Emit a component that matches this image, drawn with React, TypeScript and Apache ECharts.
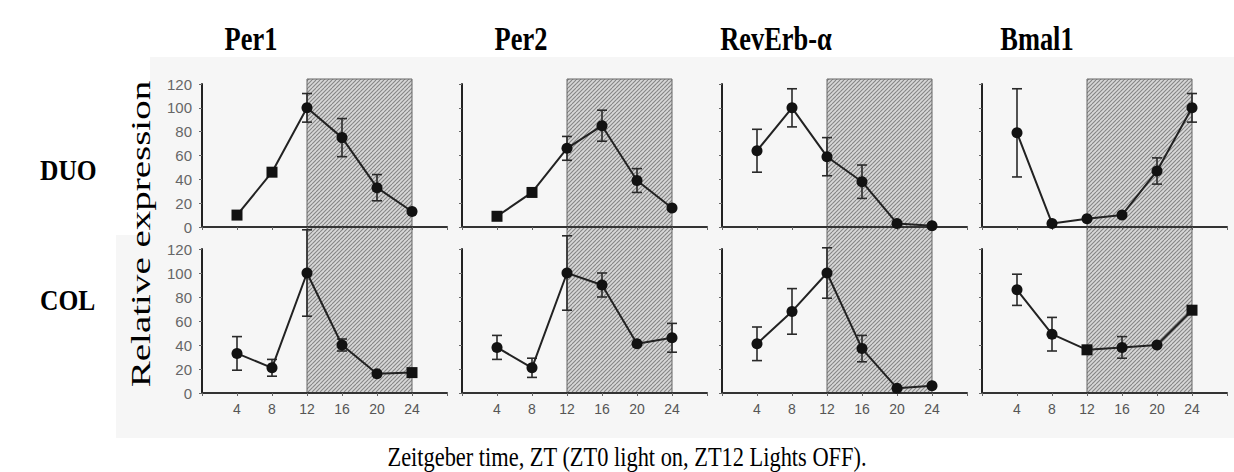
import React, { useEffect, useRef } from "react";
import * as echarts from "echarts";

// ---------- data ----------
const genes = ["Per1", "Per2", "RevErb-α", "Bmal1"];
const groups = ["DUO", "COL"];
const ztHours = [4, 8, 12, 16, 20, 24];
const xTickLabels = [4, 8, 12, 16, 20, 24];
const yTickLabels = [0, 20, 40, 60, 80, 100, 120];
const darkPhase = [12, 24];

const duoPer1 = [10, 46, 100, 75, 33, 13];
const duoPer1Err = [2, 2, 12, 16, 11, 1];
const duoPer1Sym = ["rect", "rect", "circle", "circle", "circle", "circle"];

const duoPer2 = [9, 29, 66, 85, 39, 16];
const duoPer2Err = [1, 2, 10, 13, 10, 1];
const duoPer2Sym = ["rect", "rect", "circle", "circle", "circle", "circle"];

const duoRev = [64, 100, 59, 38, 3, 1];
const duoRevErr = [18, 16, 16, 14, 0, 0];
const duoRevSym = ["circle", "circle", "circle", "circle", "circle", "circle"];

const duoBmal = [79, 3, 7, 10, 47, 100];
const duoBmalErr = [37, 0, 0, 0, 11, 12];
const duoBmalSym = ["circle", "circle", "circle", "circle", "circle", "circle"];

const colPer1 = [33, 21, 100, 40, 16, 17];
const colPer1Err = [14, 7, 36, 5, 0, 0];
const colPer1Sym = ["circle", "circle", "circle", "circle", "circle", "rect"];

const colPer2 = [38, 21, 100, 90, 41, 46];
const colPer2Err = [10, 8, 31, 10, 0, 12];
const colPer2Sym = ["circle", "circle", "circle", "circle", "circle", "circle"];

const colRev = [41, 68, 100, 37, 4, 6];
const colRevErr = [14, 19, 21, 11, 0, 0];
const colRevSym = ["circle", "circle", "circle", "circle", "circle", "circle"];

const colBmal = [86, 49, 36, 38, 40, 69];
const colBmalErr = [13, 14, 0, 9, 0, 2];
const colBmalSym = ["circle", "circle", "rect", "circle", "circle", "rect"];

const panelValues = [
  [duoPer1, duoPer2, duoRev, duoBmal],
  [colPer1, colPer2, colRev, colBmal],
];
const panelErrors = [
  [duoPer1Err, duoPer2Err, duoRevErr, duoBmalErr],
  [colPer1Err, colPer2Err, colRevErr, colBmalErr],
];
const panelSymbols = [
  [duoPer1Sym, duoPer2Sym, duoRevSym, duoBmalSym],
  [colPer1Sym, colPer2Sym, colRevSym, colBmalSym],
];

// ---------- layout ----------
const colLeft = [202, 462, 722, 982];
const panelWidth = 245;
const rowTop = [84, 249];
const rowHeight = [143, 144];
const hatchTop = 79;
const hatchBottom = 393;

const SERIF = "'Liberation Serif', 'Times New Roman', serif";
const SANS = "'Liberation Sans', Arial, sans-serif";

function makePattern() {
  const c = document.createElement("canvas");
  c.width = 8;
  c.height = 8;
  const ctx = c.getContext("2d")!;
  ctx.fillStyle = "#d8d8d8";
  ctx.fillRect(0, 0, 8, 8);
  ctx.strokeStyle = "#858585";
  ctx.lineWidth = 1.1;
  for (const k of [0, 4, 8, 12, 16]) {
    ctx.beginPath();
    ctx.moveTo(k, 0);
    ctx.lineTo(k - 8, 8);
    ctx.stroke();
  }
  return c;
}

export default function App() {
  const ref = useRef<HTMLDivElement>(null);

  useEffect(() => {
    document.body.style.margin = "0";
    if (!ref.current) return;
    const chart = echarts.init(ref.current, undefined, { renderer: "svg" });
    const pattern = makePattern();

    const grids: any[] = [];
    const xAxes: any[] = [];
    const yAxes: any[] = [];
    const series: any[] = [];

    for (let r = 0; r < 2; r++) {
      for (let c = 0; c < 4; c++) {
        grids.push({
          left: colLeft[c],
          top: rowTop[r],
          width: panelWidth,
          height: rowHeight[r],
          outerBoundsMode: "none",
        });
        const gi = r * 4 + c;
        xAxes.push({
          type: "value",
          gridIndex: gi,
          min: 0,
          max: 28,
          interval: 4,
          z: 5,
          splitLine: { show: false },
          axisLine: { show: true, onZero: false, lineStyle: { color: "#333", width: 2 } },
          axisTick: { show: true, length: 3, lineStyle: { color: "#666", width: 1 } },
          axisLabel: {
            show: r === 1,
            formatter: (v: number) => (xTickLabels.includes(v) ? String(v) : ""),
            color: "#555",
            fontSize: 14,
            fontFamily: SANS,
            margin: 9,
          },
        });
        yAxes.push({
          type: "value",
          gridIndex: gi,
          min: 0,
          max: 120,
          interval: 20,
          z: 5,
          splitLine: { show: false },
          axisLine: { show: true, onZero: false, lineStyle: { color: "#222", width: 2 } },
          axisTick: { show: true, length: 3, lineStyle: { color: "#666", width: 1 } },
          axisLabel: {
            show: c === 0,
            formatter: (v: number) => (yTickLabels.includes(v) ? String(v) : ""),
            color: "#666",
            fontSize: 15,
            fontFamily: SANS,
            margin: 10,
          },
        });

        const vals = panelValues[r][c];
        const errs = panelErrors[r][c];
        const syms = panelSymbols[r][c];

        series.push({
          type: "line",
          xAxisIndex: gi,
          yAxisIndex: gi,
          z: 6,
          symbolSize: 11,
          showSymbol: true,
          data: ztHours.map((h, i) => ({ value: [h, vals[i]], symbol: syms[i] })),
          itemStyle: { color: "#121212" },
          lineStyle: { color: "#222", width: 2 },
        });

        series.push({
          type: "custom",
          xAxisIndex: gi,
          yAxisIndex: gi,
          z: 6,
          clip: false,
          encode: { x: 0, y: [1, 2] },
          data: ztHours.map((h, i) => [h, vals[i] - errs[i], vals[i] + errs[i], errs[i]]),
          renderItem: (params: any, api: any) => {
            if (api.value(3) <= 0) return null;
            const top = api.coord([api.value(0), api.value(2)]);
            const bot = api.coord([api.value(0), api.value(1)]);
            const w = 5;
            const st = { stroke: "#2a2a2a", lineWidth: 1.6 };
            return {
              type: "group",
              children: [
                { type: "line", shape: { x1: top[0], y1: top[1], x2: bot[0], y2: bot[1] }, style: st },
                { type: "line", shape: { x1: top[0] - w, y1: top[1], x2: top[0] + w, y2: top[1] }, style: st },
                { type: "line", shape: { x1: bot[0] - w, y1: bot[1], x2: bot[0] + w, y2: bot[1] }, style: st },
              ],
            };
          },
        });
      }
    }

    // hatched dark-phase columns spanning both rows
    for (let c = 0; c < 4; c++) {
      const gi = 8 + c;
      grids.push({
        left: colLeft[c],
        top: hatchTop,
        width: panelWidth,
        height: hatchBottom - hatchTop,
        outerBoundsMode: "none",
      });
      xAxes.push({ type: "value", gridIndex: gi, min: 0, max: 28, show: false });
      yAxes.push({ type: "value", gridIndex: gi, min: 0, max: 1, show: false });
      series.push({
        type: "line",
        xAxisIndex: gi,
        yAxisIndex: gi,
        z: 1,
        silent: true,
        symbol: "none",
        data: [],
        markArea: {
          silent: true,
          z: 1,
          itemStyle: {
            color: { image: pattern, repeat: "repeat" },
            borderColor: "#666",
            borderWidth: 1,
          },
          data: [[{ xAxis: darkPhase[0], yAxis: 0 }, { xAxis: darkPhase[1], yAxis: 1 }]],
        },
      });
    }

    const titleCenters = [251, 521, 776, 1037];
    const graphic: any[] = [
      { type: "rect", z: -10, silent: true, shape: { x: 150, y: 57, width: 1084, height: 381 }, style: { fill: "#f6f6f6" } },
      { type: "rect", z: -10, silent: true, shape: { x: 116, y: 235, width: 40, height: 203 }, style: { fill: "#f6f6f6" } },
    ];
    genes.forEach((g, i) => {
      graphic.push({
        type: "text",
        x: titleCenters[i],
        y: 38,
        scaleX: 0.8,
        z: 10,
        style: {
          text: g,
          font: `bold 33px ${SERIF}`,
          fill: "#000",
          textAlign: "center",
          textVerticalAlign: "middle",
        },
      });
    });
    const rowLabelY = [170, 300];
    groups.forEach((g, i) => {
      graphic.push({
        type: "text",
        x: 40,
        y: rowLabelY[i],
        scaleX: 0.85,
        z: 10,
        style: {
          text: g,
          font: `bold 30px ${SERIF}`,
          fill: "#000",
          textAlign: "left",
          textVerticalAlign: "middle",
        },
      });
    });
    graphic.push({
      type: "text",
      x: 140,
      y: 234,
      rotation: Math.PI / 2,
      scaleY: 0.72,
      z: 10,
      style: {
        text: "Relative expression",
        font: `39px ${SERIF}`,
        fill: "#000",
        textAlign: "center",
        textVerticalAlign: "middle",
      },
    });
    graphic.push({
      type: "text",
      x: 627,
      y: 456,
      scaleX: 0.8,
      z: 10,
      style: {
        text: "Zeitgeber time, ZT (ZT0 light on, ZT12 Lights OFF).",
        font: `28px ${SERIF}`,
        fill: "#000",
        textAlign: "center",
        textVerticalAlign: "middle",
      },
    });

    chart.setOption({
      animation: false,
      grid: grids,
      xAxis: xAxes,
      yAxis: yAxes,
      series,
      graphic,
    });

    return () => chart.dispose();
  }, []);

  return <div ref={ref} style={{ width: 1234, height: 472 }} />;
}
